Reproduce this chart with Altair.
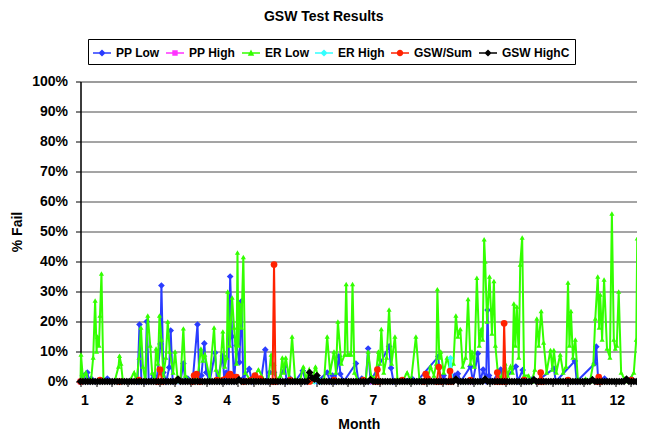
import altair as alt
import pandas as pd

# ---------------- data ----------------
series_names = ["PP Low", "PP High", "ER Low", "ER High", "GSW/Sum", "GSW HighC"]
series_colors = ["#2a3cff", "#ff33ff", "#33ff00", "#33ffff", "#ff2200", "#000000"]

pp_low_month = [
    1.00, 1.05, 1.10, 1.14, 1.18, 1.22, 1.30, 1.55, 1.60, 2.17,
    2.21, 2.25, 2.33, 2.36, 2.40, 2.50, 2.56, 2.64, 2.66, 2.70,
    2.76, 2.82, 2.85, 2.89, 3.05, 3.11, 3.15, 3.20, 3.30, 3.40,
    3.44, 3.48, 3.54, 3.58, 3.65, 3.76, 3.80, 3.92, 3.95, 3.99,
    4.03, 4.07, 4.11, 4.15, 4.20, 4.26, 4.30, 4.34, 4.46, 4.52,
    4.60, 4.70, 4.79, 4.83, 4.88, 4.97, 5.05, 5.19, 5.23, 5.30,
    5.40, 5.56, 5.62, 5.75, 5.85, 6.06, 6.12, 6.17, 6.22, 6.30,
    6.33, 6.40, 6.65, 6.70, 6.77, 6.85, 6.90, 6.95, 7.33, 7.37,
    7.42, 7.80, 7.90, 8.34, 8.38, 8.45, 8.50, 8.68, 8.74, 8.80,
    9.00, 9.05, 9.15, 9.20, 9.26, 9.32, 9.35, 9.38, 9.45, 9.62,
    9.66, 9.93, 9.97, 10.07, 10.12, 10.28, 10.35, 10.71, 10.75, 11.14,
    11.18, 11.55, 11.58, 11.62, 11.75, 11.85, 12.30, 12.40, 12.58,
]
pp_low_value = [
    0, 2, 0, 3, 0, 1, 0, 1, 0, 0,
    19, 0, 0, 20, 0, 2, 0, 12.5, 32, 3,
    0, 4.7, 17, 0, 0, 6, 0, 1, 0, 19,
    0, 2, 12.7, 3, 0, 9.6, 0, 8.5, 0, 3,
    0, 35, 15, 0, 12, 6.4, 26.7, 1, 4.2, 0,
    1, 0, 10.6, 0, 3, 3, 0, 5, 0, 1,
    0, 3.6, 0, 1, 0, 3, 0, 2, 0, 8.4,
    2.5, 0, 6, 0, 1, 0, 11, 0, 11.7, 4.5,
    0, 1, 0, 8.3, 0, 2, 0, 2, 2.6, 0,
    5, 0, 9.3, 0, 4, 0, 23.8, 2, 0, 4,
    0, 5, 0, 3.8, 0, 1, 0, 4.3, 0, 6.8,
    0, 6, 11.6, 0, 1, 0, 1, 0, 0,
]

pp_high_month = [1.00, 3.00, 5.00, 7.00, 9.00, 11.00, 12.58]
pp_high_value = [0, 0, 0, 0, 0, 0, 0]

er_low_month = [
    1.00, 1.01, 1.05, 1.11, 1.16, 1.22, 1.26, 1.30, 1.33, 1.35,
    1.38, 1.40, 1.43, 1.47, 1.55, 1.70, 1.78, 1.80, 1.83, 1.87,
    2.00, 2.10, 2.15, 2.20, 2.24, 2.28, 2.33, 2.38, 2.43, 2.47,
    2.52, 2.55, 2.59, 2.62, 2.66, 2.70, 2.75, 2.79, 2.83, 2.90,
    2.94, 2.99, 3.05, 3.11, 3.15, 3.25, 3.40, 3.47, 3.51, 3.55,
    3.65, 3.74, 3.78, 3.85, 3.92, 3.96, 4.00, 4.02, 4.06, 4.11,
    4.15, 4.20, 4.22, 4.24, 4.26, 4.30, 4.34, 4.38, 4.50, 4.65,
    4.75, 4.85, 4.91, 4.94, 4.97, 5.03, 5.10, 5.14, 5.17, 5.21,
    5.28, 5.34, 5.40, 5.50, 5.57, 5.62, 5.69, 5.75, 5.82, 5.90,
    6.00, 6.06, 6.12, 6.20, 6.24, 6.28, 6.35, 6.42, 6.45, 6.48,
    6.51, 6.55, 6.58, 6.62, 6.70, 6.79, 6.85, 6.90, 6.96, 7.05,
    7.11, 7.14, 7.17, 7.22, 7.28, 7.33, 7.38, 7.45, 7.50, 7.60,
    7.70, 7.78, 7.88, 7.95, 8.05, 8.12, 8.18, 8.25, 8.30, 8.32,
    8.36, 8.39, 8.45, 8.52, 8.58, 8.65, 8.70, 8.74, 8.79, 8.84,
    8.90, 8.95, 9.00, 9.03, 9.08, 9.13, 9.18, 9.22, 9.25, 9.28,
    9.30, 9.34, 9.39, 9.44, 9.48, 9.51, 9.56, 9.63, 9.71, 9.76,
    9.82, 9.86, 9.89, 9.92, 9.95, 9.99, 10.02, 10.06, 10.10, 10.19,
    10.26, 10.32, 10.36, 10.40, 10.45, 10.50, 10.56, 10.64, 10.68, 10.71,
    10.76, 10.84, 10.90, 10.96, 11.00, 11.03, 11.06, 11.10, 11.15, 11.20,
    11.28, 11.36, 11.45, 11.52, 11.56, 11.61, 11.64, 11.66, 11.70, 11.74,
    11.80, 11.86, 11.90, 11.94, 11.97, 12.00, 12.04, 12.09, 12.15, 12.25,
    12.35, 12.40, 12.42, 12.47, 12.52, 12.55, 12.58,
]
er_low_value = [
    0, 9, 1, 3, 0, 1, 8, 27, 10, 15,
    12, 22, 36, 1, 0, 0, 5, 8.6, 6, 0,
    0, 3, 0, 8, 18, 5, 0, 22, 12, 3,
    0, 11, 6, 22, 14, 2, 8, 20, 10, 3,
    10, 1, 0, 17.7, 2, 0, 1, 11, 7, 9,
    1, 18, 4, 1, 16.7, 5, 8, 30, 12, 28,
    18, 6, 43, 12, 26, 18, 41.5, 3, 0, 4,
    1, 0, 9, 3, 6, 0, 2, 8, 3, 8,
    1, 15, 1, 0, 5, 1, 4, 0, 5, 0,
    1, 15, 3, 10, 3, 20, 6, 9, 32.5, 9,
    9, 9, 32.5, 3, 0, 1, 0, 10, 2, 1,
    10, 6, 17.5, 3, 8, 24, 6, 15, 1, 0,
    3, 0, 15, 1, 0, 1, 5, 2, 6, 30.8,
    8, 10, 3, 8, 4, 6, 22, 15, 17.5, 5,
    8, 27.5, 6, 10, 5, 34.6, 12, 17.5, 14, 47.4,
    40, 20, 35, 16, 33.5, 12, 3, 1, 6, 2,
    5, 3, 26, 12, 25, 8, 39, 48, 2, 2,
    0, 4, 21, 12, 23.5, 13, 3, 10.5, 4, 10.5,
    3, 9, 3, 5, 33, 12, 23.5, 8, 14, 1,
    0, 1, 0, 6, 21, 35, 18, 29, 14, 34,
    11, 8, 56, 14, 11, 12, 30, 3, 1, 0,
    3, 14, 47.7, 4, 1, 9, 10,
]

er_high_month = [1.00, 3.00, 5.80, 5.86, 5.92, 8.00, 8.55, 8.59, 8.63, 10.00, 12.58]
er_high_value = [0, 0, 0, 1, 0, 0, 0, 7.8, 0, 0, 0]

gsw_sum_month = [
    1.00, 1.40, 1.80, 2.20, 2.58, 2.63, 2.68, 3.00, 3.30, 3.33,
    3.38, 3.45, 3.80, 4.04, 4.07, 4.12, 4.20, 4.35, 4.58, 4.68,
    4.94, 4.97, 5.00, 5.30, 5.70, 6.20, 6.80, 7.05, 7.09, 7.13,
    7.60, 8.04, 8.08, 8.12, 8.31, 8.35, 8.40, 8.55, 8.58, 8.62,
    9.00, 9.52, 9.55, 9.60, 9.67, 9.69, 9.72, 10.10, 10.41, 10.44,
    10.48, 11.00, 11.60, 11.63, 11.67, 12.30, 12.58,
]
gsw_sum_value = [
    0, 0.5, 0, 0.5, 0, 4, 0, 0.5, 0, 2,
    2.5, 0, 0.5, 2, 2.5, 1.5, 1.5, 0, 2, 1,
    0, 39, 0, 0.5, 0, 0.5, 0.5, 0, 4, 0,
    0.5, 0, 2.5, 1, 0, 4.8, 0, 0, 3.5, 0,
    0.5, 0, 3, 0, 0, 19.4, 0, 0.5, 0, 3,
    0, 0.5, 0, 1.5, 0, 0.5, 0,
]

# GSW HighC sits on 0 % every day; only these readings rise above it
gsw_highc_month = [round(1 + 0.05 * i, 2) for i in range(233)]
gsw_highc_readings = {3.00: 0.8, 4.25: 0.6, 5.70: 3.0, 5.75: 1.2, 5.80: 0.8,
                      5.85: 2.0, 6.95: 0.6, 8.70: 0.8, 9.30: 0.8, 10.30: 0.6,
                      11.50: 0.6, 12.20: 0.8}
gsw_highc_value = [gsw_highc_readings.get(m, 0) for m in gsw_highc_month]

y_tick_values = [0, 10, 20, 30, 40, 50, 60, 70, 80, 90, 100]
x_label_values = [1, 2, 3, 4, 5, 6, 7, 8, 9, 10, 11, 12]
x_minor_tick_values = [1 + 10 * k / 31 for k in range(36)]

# ---------------- chart ----------------
FONT = "Liberation Sans"
PAD_L, PAD_T, PAD_B = 72.5, 73.5, 51
PLOT_W, PLOT_H = 556.5, 300
X_MAX = 1 + PLOT_W / 48.75

x_scale = alt.Scale(domain=[1, X_MAX], nice=False, zero=False)
y_scale = alt.Scale(domain=[0, 100], nice=False, zero=True)

y_enc = alt.Y(
    "value:Q", scale=y_scale,
    axis=alt.Axis(values=y_tick_values, labelExpr="datum.value + '%'", title="% Fail",
                  grid=True, gridColor="#4a4a4a", gridWidth=1, tickSize=5,
                  tickColor="black", domainColor="black", domainWidth=1.5,
                  labelPadding=8, titlePadding=7, labelFont=FONT, labelFontSize=14,
                  labelFontWeight="bold", labelColor="black", titleFont=FONT,
                  titleFontSize=14, titleFontWeight="bold", titleColor="black"),
)
x_plain = alt.X("month:Q", scale=x_scale, axis=None)
x_ticks = alt.X("month:Q", scale=x_scale,
                axis=alt.Axis(orient="bottom", values=x_minor_tick_values, labels=False,
                              ticks=True, tickSize=5, tickColor="black", domain=True,
                              domainColor="black", domainWidth=1.5, grid=False, title=None))
x_labels = alt.X("month:Q", scale=x_scale,
                 axis=alt.Axis(orient="bottom", values=x_label_values, format="d",
                               ticks=False, domain=False, grid=False, labelPadding=12,
                               labelFont=FONT, labelFontSize=14, labelFontWeight="bold",
                               labelColor="black", title="Month", titlePadding=10,
                               titleFont=FONT, titleFontSize=14, titleFontWeight="bold",
                               titleColor="black"))

series_data = [
    (pp_low_month, pp_low_value, "diamond", 45),
    (pp_high_month, pp_high_value, "square", 30),
    (er_low_month, er_low_value, "triangle-up", 26),
    (er_high_month, er_high_value, "diamond", 40),
    (gsw_sum_month, gsw_sum_value, "circle", 45),
    (gsw_highc_month, gsw_highc_value, "diamond", 60),
]

layers = []
for i, (months, values, shape, size) in enumerate(series_data):
    df = pd.DataFrame({"month": months, "value": values})
    color = series_colors[i]
    x_line = x_ticks if i == 0 else x_plain
    x_pts = x_labels if i == 0 else x_plain
    layers.append(alt.Chart(df).mark_line(color=color, strokeWidth=2)
                  .encode(x=x_line, y=y_enc))
    layers.append(alt.Chart(df).mark_point(shape=shape, filled=True, color=color,
                                           size=size, opacity=1)
                  .encode(x=x_pts, y=y_enc))

bar = "M-1,-0.09H1V0.09H-1Z "
legend_paths = [
    bar + "M0,-0.4L0.4,0L0,0.4L-0.4,0Z",
    bar + "M-0.3,-0.3H0.3V0.3H-0.3Z",
    bar + "M0,-0.38L0.36,0.3H-0.36Z",
    bar + "M0,-0.4L0.4,0L0,0.4L-0.4,0Z",
    bar + "M0.36,0A0.36,0.36 0 1,1 -0.36,0A0.36,0.36 0 1,1 0.36,0Z",
    bar + "M0,-0.4L0.4,0L0,0.4L-0.4,0Z",
]
leg = alt.Legend(title=None, orient="none", legendX=7.5, legendY=-42.5,
                 direction="horizontal", columns=6, strokeColor="black",
                 fillColor="white", padding=5, symbolSize=324, symbolOpacity=1,
                 symbolStrokeWidth=0, labelOffset=5, columnPadding=6,
                 labelFont=FONT, labelFontSize=12, labelFontWeight="bold",
                 labelColor="black")
legend_df = pd.DataFrame({"series": series_names})
legend_layer = alt.Chart(legend_df).mark_point(filled=True, opacity=0).encode(
    x=alt.value(0), y=alt.value(0),
    fill=alt.Fill("series:N", scale=alt.Scale(domain=series_names, range=series_colors),
                  legend=leg),
    shape=alt.Shape("series:N", scale=alt.Scale(domain=series_names, range=legend_paths),
                    legend=leg),
)
layers.append(legend_layer)

chart = (
    alt.layer(*layers)
    .resolve_axis(x="independent")
    .properties(
        width=PLOT_W, height=PLOT_H,
        title=alt.TitleParams("GSW Test Results", font=FONT, fontSize=14,
                              fontWeight="bold", color="black", anchor="middle",
                              dx=-35, offset=15),
        autosize=alt.AutoSizeParams(type="none"),
        padding={"left": PAD_L, "top": PAD_T, "right": 0, "bottom": PAD_B},
    )
    .configure_view(stroke=None)
    .configure(font=FONT)
)

chart.save("out.html", embed_options={"renderer": "svg", "actions": False})
